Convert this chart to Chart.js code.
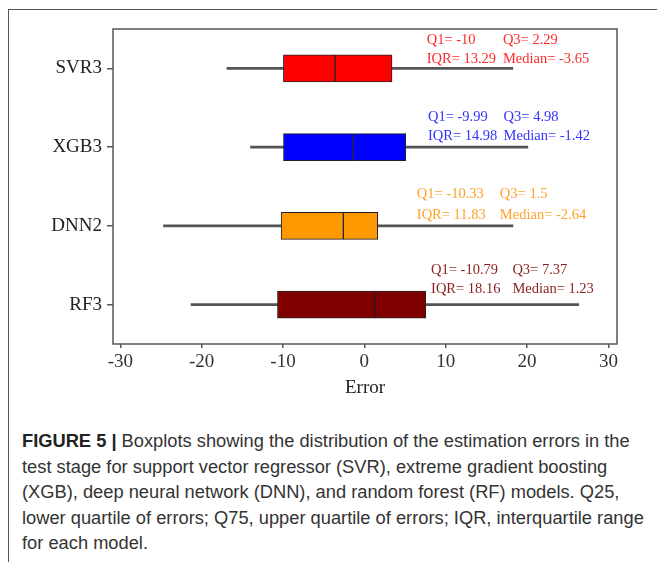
<!DOCTYPE html>
<html>
<head>
<meta charset="utf-8">
<script src="https://cdn.jsdelivr.net/npm/chart.js@4.4.1/dist/chart.umd.min.js"></script>
<style>
    html, body { margin: 0; padding: 0; background: #fff; }
    body { width: 657px; height: 562px; position: relative; overflow: hidden; }
    #moldura { position: absolute; left: 8px; top: 9px; width: 700px; height: 600px; border-left: 1px solid #555; border-top: 1px solid #555; }
    #grafico { position: absolute; left: 0; top: 0; }
    #legenda { position: absolute; left: 22px; top: 428px; font-family: "Liberation Sans", Arial, sans-serif; font-size: 18.3px; line-height: 25.5px; color: #333; white-space: nowrap; }
    #legenda b { color: #222; }
</style>
</head>
<body>
<div id="moldura"></div>
<canvas id="grafico" width="657" height="410"></canvas>
<div id="legenda">
    <b>FIGURE 5 |</b> Boxplots showing the distribution of the estimation errors in the<br>
    test stage for support vector regressor (SVR), extreme gradient boosting<br>
    (XGB), deep neural network (DNN), and random forest (RF) models. Q25,<br>
    lower quartile of errors; Q75, upper quartile of errors; IQR, interquartile range<br>
    for each model.
</div>
<script>
// Dados dos boxplots
const modelos = ['SVR3', 'XGB3', 'DNN2', 'RF3'];
const minimo = [-16.9, -14.0, -24.7, -21.3];
const q1 = [-9.95, -9.94, -10.23, -10.68];
const mediana = [-3.6, -1.35, -2.58, 1.31];
const q3 = [3.4, 5.08, 1.64, 7.54];
const maximo = [18.25, 20.1, 18.27, 26.36];
const xTicks = [-30, -20, -10, 0, 10, 20, 30];

// Textos das anotações
const textoQ1 = ['-10', '-9.99', '-10.33', '-10.79'];
const textoQ3 = ['2.29', '4.98', '1.5', '7.37'];
const textoIQR = ['13.29', '14.98', '11.83', '18.16'];
const textoMediana = ['-3.65', '-1.42', '-2.64', '1.23'];

const coresCaixa = ['#ff0000', '#0000ff', '#ff9900', '#800000'];
const coresTexto = ['#ff2a2a', '#3333ff', '#ffa12a', '#8b1f1f'];

// Posição das anotações: x em unidades do eixo, dy em px a partir do centro da caixa
const notaX1 = [7.66, 7.82, 6.45, 8.2];
const notaX2 = [17.03, 17.12, 16.66, 18.2];
const notaDy1 = [-28, -30, -32, -34.5];
const notaDy2 = [-9, -11, -11, -15];

// Plugin que escreve as anotações e a moldura da área do gráfico
const anotacoes = {
    id: 'anotacoes',
    afterDatasetsDraw(chart) {
        const { ctx, chartArea, scales: { x, y } } = chart;
        ctx.save();
        ctx.font = '14.5px "Liberation Serif"';
        ctx.textBaseline = 'middle';
        ctx.textAlign = 'left';
        modelos.forEach((m, i) => {
            const cy = y.getPixelForValue(i);
            const x1 = x.getPixelForValue(notaX1[i]);
            const x2 = x.getPixelForValue(notaX2[i]);
            ctx.fillStyle = coresTexto[i];
            ctx.fillText('Q1= ' + textoQ1[i], x1, cy + notaDy1[i]);
            ctx.fillText('Q3= ' + textoQ3[i], x2, cy + notaDy1[i]);
            ctx.fillText('IQR= ' + textoIQR[i], x1, cy + notaDy2[i]);
            ctx.fillText('Median= ' + textoMediana[i], x2, cy + notaDy2[i]);
        });
        ctx.strokeStyle = '#555';
        ctx.lineWidth = 1.5;
        ctx.strokeRect(chartArea.left, chartArea.top, chartArea.width, chartArea.height);
        ctx.restore();
    }
};

const ctx = document.getElementById('grafico').getContext('2d');
new Chart(ctx, {
    type: 'bar',
    data: {
        labels: modelos,
        datasets: [
            {
                label: 'bigode',
                data: modelos.map((_, i) => [minimo[i], maximo[i]]),
                backgroundColor: '#555',
                barThickness: 2,
                order: 2
            },
            {
                label: 'inferior',
                data: modelos.map((_, i) => [q1[i], mediana[i]]),
                backgroundColor: coresCaixa,
                borderColor: '#222',
                borderWidth: 1,
                borderSkipped: false,
                barThickness: 27,
                order: 1
            },
            {
                label: 'superior',
                data: modelos.map((_, i) => [mediana[i], q3[i]]),
                backgroundColor: coresCaixa,
                borderColor: '#222',
                borderWidth: 1,
                borderSkipped: false,
                barThickness: 27,
                order: 1
            }
        ]
    },
    options: {
        indexAxis: 'y',
        responsive: false,
        animation: false,
        datasets: { bar: { grouped: false } },
        layout: { padding: { top: 29, right: 40, left: 0, bottom: 0 } },
        plugins: { legend: { display: false }, tooltip: { enabled: false } },
        scales: {
            x: {
                min: -30.9,
                max: 31.06,
                afterBuildTicks: s => { s.ticks = xTicks.map(v => ({ value: v })); },
                ticks: { color: '#333', font: { family: 'Liberation Serif', size: 19 }, padding: 3 },
                grid: { drawOnChartArea: false, drawTicks: true, tickLength: 4, color: '#555', lineWidth: 1.5 },
                border: { display: false },
                title: { display: true, text: 'Error', color: '#222', font: { family: 'Liberation Serif', size: 19 }, padding: { top: 0, bottom: 11 } },
                afterFit: s => { s.height = 66; }
            },
            y: {
                grid: { offset: false, drawOnChartArea: false, drawTicks: true, tickLength: 6, color: '#555', lineWidth: 1.5 },
                border: { display: false },
                ticks: { color: '#222', font: { family: 'Liberation Serif', size: 19 }, padding: 5 },
                afterFit: s => { s.width = 113; }
            }
        }
    },
    plugins: [anotacoes]
});
</script>
</body>
</html>
